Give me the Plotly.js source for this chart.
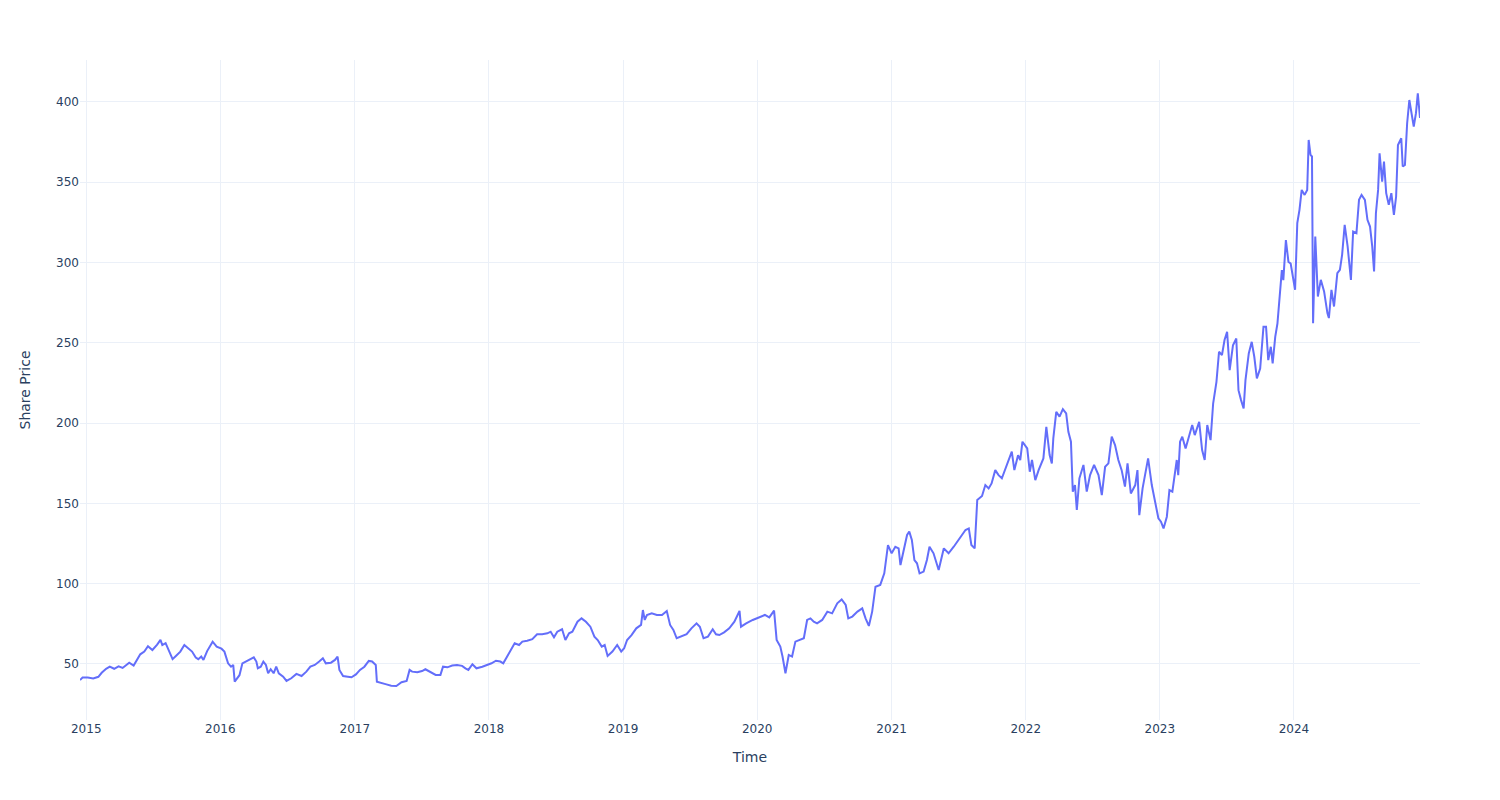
<!DOCTYPE html>
<html>
<head>
<meta charset="utf-8">
<script src="https://cdn.plot.ly/plotly-3.0.1.min.js"></script>
<style>html,body{margin:0;padding:0;background:#fff;}#chart{width:1500px;height:800px;}</style>
</head>
<body>
<div id="chart"></div>
<script>
const dates = [
"2014-12-15","2014-12-22","2015-01-05","2015-01-20","2015-02-03","2015-02-12","2015-02-24","2015-03-06","2015-03-18","2015-03-30",
"2015-04-10","2015-04-20","2015-04-28","2015-05-10","2015-05-20","2015-05-28","2015-06-08","2015-06-18","2015-06-30","2015-07-13",
"2015-07-22","2015-07-27","2015-08-05","2015-08-14","2015-08-24","2015-09-02","2015-09-14","2015-09-25","2015-10-06","2015-10-16",
"2015-10-26","2015-11-02","2015-11-10","2015-11-16","2015-11-26","2015-12-05","2015-12-11","2015-12-22","2016-01-04","2016-01-12",
"2016-01-22","2016-01-30","2016-02-05","2016-02-09","2016-02-16","2016-02-22","2016-03-01","2016-03-10","2016-03-22","2016-04-01",
"2016-04-08","2016-04-12","2016-04-20","2016-04-27","2016-05-04","2016-05-10","2016-05-17","2016-05-25","2016-06-01","2016-06-08",
"2016-06-20","2016-06-29","2016-07-12","2016-07-26","2016-08-09","2016-08-22","2016-09-02","2016-09-14","2016-09-26","2016-10-06",
"2016-10-14","2016-10-28","2016-11-08","2016-11-15","2016-11-20","2016-11-30","2016-12-13","2016-12-23","2017-01-04","2017-01-15",
"2017-01-27","2017-02-08","2017-02-17","2017-02-27","2017-03-02","2017-03-15","2017-03-28","2017-04-10","2017-04-24","2017-05-08",
"2017-05-22","2017-05-30","2017-06-06","2017-06-20","2017-07-03","2017-07-12","2017-07-26","2017-08-09","2017-08-22","2017-08-29",
"2017-09-10","2017-09-23","2017-10-06","2017-10-20","2017-10-29","2017-11-06","2017-11-17","2017-11-28","2017-12-14","2017-12-28",
"2018-01-08","2018-01-20","2018-02-01","2018-02-09","2018-02-20","2018-03-01","2018-03-12","2018-03-24","2018-04-02","2018-04-15",
"2018-04-29","2018-05-12","2018-05-26","2018-06-09","2018-06-18","2018-06-27","2018-07-06","2018-07-19","2018-07-28","2018-08-07",
"2018-08-16","2018-08-30","2018-09-10","2018-09-22","2018-10-04","2018-10-15","2018-10-24","2018-11-04","2018-11-12","2018-11-20",
"2018-12-03","2018-12-16","2018-12-27","2019-01-04","2019-01-12","2019-01-24","2019-02-06","2019-02-19","2019-02-24","2019-03-01",
"2019-03-07","2019-03-20","2019-04-03","2019-04-17","2019-04-30","2019-05-09","2019-05-18","2019-05-27","2019-06-09","2019-06-23",
"2019-07-06","2019-07-20","2019-07-29","2019-08-08","2019-08-20","2019-09-02","2019-09-11","2019-09-20","2019-10-03","2019-10-17",
"2019-10-31","2019-11-14","2019-11-18","2019-12-02","2019-12-20","2020-01-04","2020-01-22","2020-02-03","2020-02-16","2020-02-23",
"2020-03-04","2020-03-10","2020-03-18","2020-03-27","2020-04-05","2020-04-14","2020-04-28","2020-05-07","2020-05-16","2020-05-25",
"2020-06-03","2020-06-12","2020-06-26","2020-07-10","2020-07-23","2020-08-06","2020-08-18","2020-08-29","2020-09-05","2020-09-16",
"2020-09-30","2020-10-13","2020-10-22","2020-10-31","2020-11-09","2020-11-18","2020-12-01","2020-12-12","2020-12-22","2021-01-01",
"2021-01-11","2021-01-20","2021-01-25","2021-02-03","2021-02-12","2021-02-18","2021-02-25","2021-03-04","2021-03-11","2021-03-18",
"2021-03-29","2021-04-07","2021-04-14","2021-04-25","2021-05-09","2021-05-23","2021-06-05","2021-06-19","2021-07-02","2021-07-10",
"2021-07-21","2021-07-30","2021-08-06","2021-08-15","2021-08-22","2021-09-04","2021-09-13","2021-09-22","2021-09-30","2021-10-10",
"2021-10-19","2021-10-28","2021-11-04","2021-11-15","2021-11-24","2021-12-01","2021-12-11","2021-12-17","2021-12-23","2022-01-05",
"2022-01-12","2022-01-18","2022-01-27","2022-02-05","2022-02-11","2022-02-18","2022-02-26","2022-03-07","2022-03-13","2022-03-17",
"2022-03-25","2022-04-03","2022-04-12","2022-04-21","2022-04-27","2022-05-04","2022-05-09","2022-05-15","2022-05-20","2022-05-27",
"2022-06-07","2022-06-16","2022-06-25","2022-07-06","2022-07-18","2022-07-27","2022-08-05","2022-08-14","2022-08-23","2022-09-01",
"2022-09-10","2022-09-19","2022-09-28","2022-10-05","2022-10-14","2022-10-26","2022-11-01","2022-11-06","2022-11-15","2022-11-24",
"2022-11-30","2022-12-10","2022-12-19","2022-12-28","2023-01-04","2023-01-11","2023-01-20","2023-01-27","2023-02-04","2023-02-09",
"2023-02-16","2023-02-20","2023-02-25","2023-03-03","2023-03-12","2023-03-21","2023-03-30","2023-04-06","2023-04-18","2023-04-26",
"2023-05-03","2023-05-10","2023-05-19","2023-05-26","2023-06-04","2023-06-11","2023-06-19","2023-06-26","2023-07-03","2023-07-10",
"2023-07-19","2023-07-28","2023-08-03","2023-08-10","2023-08-17","2023-08-22","2023-08-31","2023-09-08","2023-09-15","2023-09-22",
"2023-10-01","2023-10-10","2023-10-17","2023-10-23","2023-10-30","2023-11-04","2023-11-11","2023-11-17","2023-11-24","2023-11-29",
"2023-12-03","2023-12-10","2023-12-17","2023-12-23","2024-01-04","2024-01-10","2024-01-16","2024-01-22","2024-01-30","2024-02-06",
"2024-02-10","2024-02-15","2024-02-19","2024-02-22","2024-02-28","2024-03-06","2024-03-14","2024-03-23","2024-04-01","2024-04-05",
"2024-04-12","2024-04-19","2024-04-28","2024-05-05","2024-05-11","2024-05-18","2024-05-26","2024-06-04","2024-06-10","2024-06-19",
"2024-06-26","2024-07-03","2024-07-12","2024-07-19","2024-07-26","2024-08-01","2024-08-06","2024-08-11","2024-08-17","2024-08-21",
"2024-08-28","2024-09-02","2024-09-08","2024-09-15","2024-09-22","2024-09-29","2024-10-05","2024-10-10","2024-10-19","2024-10-23",
"2024-10-29","2024-11-04","2024-11-10","2024-11-17","2024-11-22","2024-11-28","2024-12-03","2024-12-09"
];
const sharePrice = [
40,41.5,41.5,41,42,44.5,47,48.3,47,48.5,
47.5,49.5,50.8,49,52.5,56,57.7,61,58.7,62,
65,61.8,63,58,53,55,57.7,61.8,59.8,57.7,
54,53,54.6,52.5,58,62,63.9,60.8,59.5,57.7,
50.4,48.3,49.4,39,41,43,50.4,51.5,52.5,54.1,
51.5,47.3,48.3,51.5,49.4,44.2,46.7,44.2,48.3,44.2,
42.1,39.4,41.1,43.8,42.5,45.2,48.3,49.4,51.5,53.5,
50.4,50.8,52.5,54.6,46.3,42.5,42.1,41.7,43.5,46.3,
48.3,51.9,51.5,49.4,39,38,37.3,36.5,36.3,38.6,
39.4,46.3,45.2,44.8,45.6,46.7,45.2,43.2,43.2,48.3,
47.9,49,49.4,48.8,47.3,46.3,49.8,47.3,48.3,49.4,
50.4,52,51.5,50.4,54.6,58.7,62.9,61.8,63.9,64.5,
65.4,68.5,68.5,69.1,70.1,66.6,70.1,71.6,64.9,69.1,
70.1,76.3,78.4,76.3,73.2,67,64.9,60.8,61.8,55,
57.7,61.8,57.7,59.8,64.9,68,72.2,74.3,83.6,77.4,
80.5,81.5,80.5,80.5,83,74.3,71.2,66,67,68.5,
72.2,75.3,73.2,66,67,71.6,68.5,68,69.7,72.2,
76.3,83,73.2,75.3,77.4,79,80.5,79,83.2,65,
60.8,54.6,44.2,55.6,54.6,63.9,64.9,66,77.4,78.4,
76.3,75.3,77.4,82.6,81.5,87.8,90.2,86.7,78.4,79.5,
82.6,84.6,78.4,73.7,82.6,98.1,99.2,106.4,124,118.9,
123,122,111.6,122,130.3,132.4,127.2,114.7,112.7,106.4,
107.5,114.7,123,118.9,108.5,122,118.9,123,127.2,130.3,
133.4,134.4,124.1,122,152.1,154.6,161.4,159.3,162.4,170.7,
167.6,165.6,169.7,177,182.2,170.7,180,177,188.4,184.2,
169.7,177,164.5,170.7,173.9,178,197.7,180.1,174.9,190.5,
207,204,208.7,206,194.6,188.4,157.3,161.4,145.9,165.6,
173.9,157.3,167.6,173.9,167.6,155.2,172.8,174.9,191.5,186.3,
177,170.7,160.4,174.9,156.2,161.4,170.7,142.7,159.3,171.8,
178,161.4,151,140.7,138.6,134.4,141.7,158.3,157.3,165.6,
177,167.6,188.4,191.5,184.2,191.5,198.8,192.5,200.8,183.2,
177,198.8,189.4,212.2,225.7,244.4,242.3,251.7,256.8,233,
248.5,252.7,220.5,214.3,209.1,226.7,243.4,250.6,241.3,227.8,
234,260,260,239.2,247.5,237.1,253.7,262,284.8,295.2,
289,313.9,300.4,299.4,283,324.5,332.8,345.2,342.1,345.2,
376.3,367,366,262.2,316.2,278.8,289.2,282,268.5,265.4,
283,272.6,293.4,295.4,304.8,323.4,310,289.2,319.3,318.3,
339,342.1,339,326.6,322.4,310,294.4,330.7,345.2,368,
350.4,362.9,343.2,335.9,343.2,329.7,341.1,373.2,377.4,359.8,
360.8,386.7,401.2,389.8,384.6,393,405.4,390
];

const trace = {
  x: dates,
  y: sharePrice,
  type: 'scatter',
  mode: 'lines',
  line: {color: '#636efa', width: 2},
  showlegend: false
};

const layout = {
  width: 1500,
  height: 800,
  margin: {l: 80, r: 80, t: 60, b: 80},
  paper_bgcolor: 'white',
  plot_bgcolor: 'white',
  font: {family: 'DejaVu Sans, sans-serif', size: 12, color: '#2a3f5f'},
  xaxis: {
    title: {text: 'Time', font: {size: 14}, standoff: 17},
    type: 'date',
    dtick: 'M12',
    tickformat: '%Y',
    gridcolor: '#EBF0F8',
    linecolor: '#EBF0F8',
    zeroline: false,
    showline: false,
    ticks: ''
  },
  yaxis: {
    title: {text: 'Share Price', font: {size: 14}, standoff: 22},
    range: [15.1, 426.1],
    tickvals: [50, 100, 150, 200, 250, 300, 350, 400],
    gridcolor: '#EBF0F8',
    zerolinecolor: '#EBF0F8',
    zeroline: false,
    showline: false,
    ticks: ''
  }
};

Plotly.newPlot('chart', [trace], layout, {displayModeBar: false, responsive: false});
</script>
</body>
</html>
